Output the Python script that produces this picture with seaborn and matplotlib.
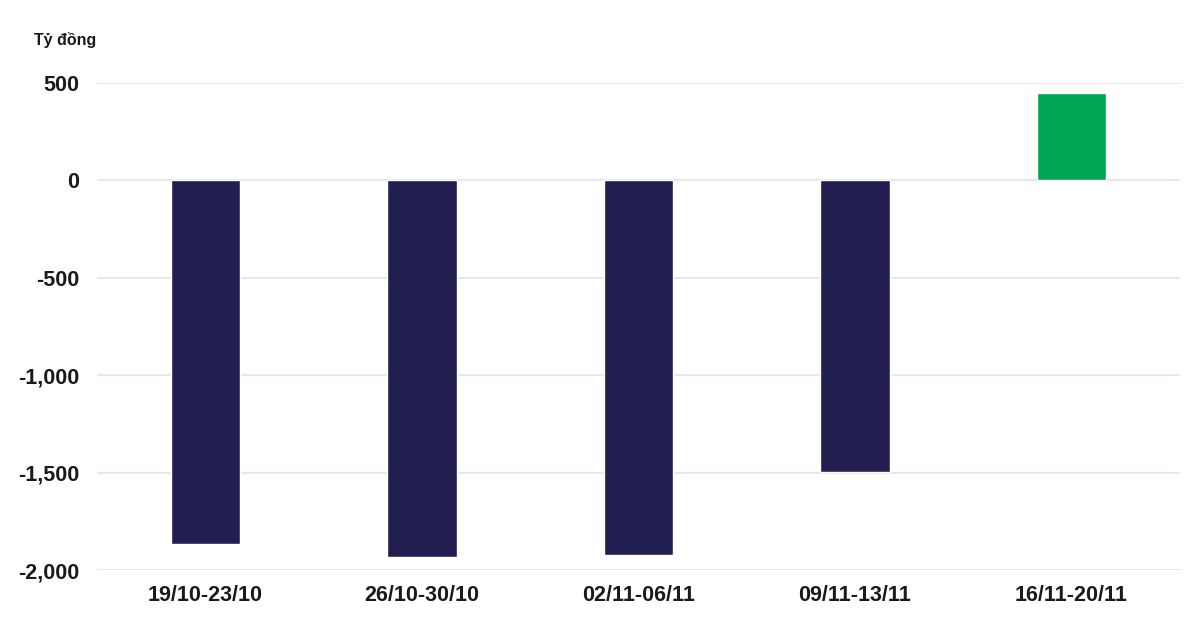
import numpy as np
import pandas as pd
import matplotlib
matplotlib.use("Agg")
import matplotlib.pyplot as plt
import seaborn as sns

sns.set_style("white")
plt.rcParams['font.family'] = ['Liberation Sans', 'DejaVu Sans']

# DATA
weeks = ["19/10-23/10", "26/10-30/10", "02/11-06/11", "09/11-13/11", "16/11-20/11"]
net_value = [-1865, -1935, -1925, -1495, 450]
y_ticks = [-2000, -1500, -1000, -500, 0, 500]

navy = "#221E4F"
green = "#00A651"
bar_colors = [green if v > 0 else navy for v in net_value]

df = pd.DataFrame({"week": weeks, "value": net_value})

fig = plt.figure(figsize=(12, 6.32), dpi=100)
ax = fig.add_axes([0.081, 0.098, 0.902, 0.771])

sns.barplot(data=df, x="week", y="value", hue="week", palette=bar_colors,
            legend=False, width=0.32, saturation=1, ax=ax, zorder=3)

ax.set_ylim(-2000, 500)
ax.set_xlim(-0.5, 4.5)
ax.set_yticks(y_ticks)
ax.set_yticklabels([f"{t:,}" for t in y_ticks])
ax.yaxis.grid(True, color="#DCE7ED", linewidth=1.3, zorder=0)
ax.xaxis.grid(False)
for s in ax.spines.values():
    s.set_visible(False)

ax.set_xlabel("")
ax.set_ylabel("")
ax.tick_params(axis="y", length=0, pad=13, labelsize=15.5)
ax.tick_params(axis="x", length=0, pad=11, labelsize=15.5)
for lab in ax.get_xticklabels() + ax.get_yticklabels():
    lab.set_fontweight("bold")
    lab.set_color("#1a1a1a")

fig.text(0.028, 0.937, "Tỷ đồng", fontsize=11.5, fontweight="bold",
         color="#1a1a1a", ha="left", va="center")

fig.savefig("out.png", dpi=100, facecolor="white")
